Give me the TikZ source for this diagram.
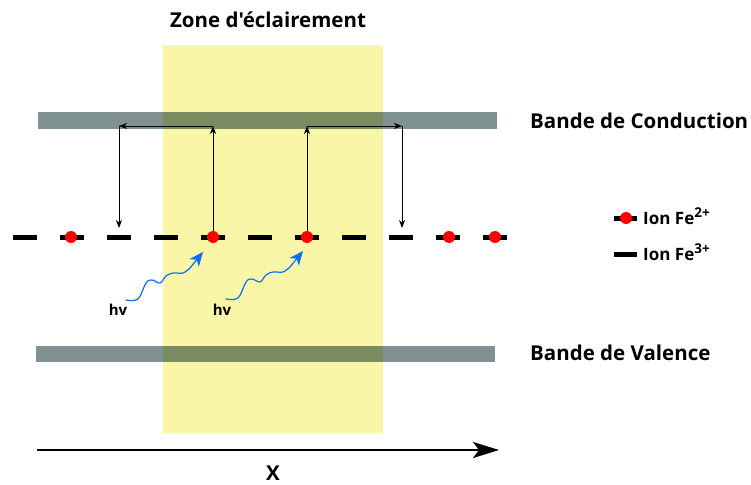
\documentclass[tikz,border=0pt]{standalone}
\usepackage{fontspec}
\setmainfont{Open Sans}[Ligatures=TeXOff]
\usetikzlibrary{arrows.meta}
\definecolor{zoneyel}{RGB}{238,232,0}
\definecolor{bandgray}{RGB}{0,35,33}
\definecolor{wave}{RGB}{10,110,255}
\definecolor{ionred}{RGB}{255,0,0}
\newcommand{\supch}[1]{\raisebox{7pt}{\fontsize{13.5}{13.5}\selectfont #1}}
\tikzset{
  lbl/.style={font=\bfseries\fontsize{20.5}{24}\selectfont, inner sep=0pt},
  hvlbl/.style={font=\bfseries\fontsize{15}{18}\selectfont, inner sep=0pt},
  leglbl/.style={font=\bfseries\fontsize{17}{20}\selectfont, inner sep=0pt},
  band/.style={fill=bandgray, fill opacity=0.5, draw=none},
  ion/.style={circle, fill=ionred, draw=none, minimum size=12pt, inner sep=0pt},
  hop/.style={-{Stealth[length=8pt,width=6pt,inset=2.5pt]}, line width=0.8pt},
  photonline/.style={wave, line width=1.2pt, line cap=round, -{Stealth[length=14pt,width=12pt,inset=4pt]}},
  fe/.style={line width=5pt, dash pattern=on 24pt off 23pt},
  photon/.pic={\draw[photonline] plot[smooth, tension=0.6] coordinates {(0,0) (12,-1) (20,-17) (26,-20) (34,-17) (40,-24) (47,-27) (57,-27) (64,-32)} -- (77,-48);},
}
\begin{document}
\begin{tikzpicture}[x=1pt,y=-1pt]
\useasboundingbox (0,0) rectangle (751,484);
% zone
\fill[zoneyel, fill opacity=0.345] (163,45) rectangle (383,433);
\node[lbl] (zone) at (268,20) {Zone d'éclairement};
% bands
\fill[band] (38,112) rectangle (497,129);
\fill[band] (36,346) rectangle (495,362);
\node[lbl, anchor=west] (bc) at (530,121) {Bande de Conduction};
\node[lbl, anchor=west] (bv) at (530,353) {Bande de Valence};
% Fe3+ line
\draw[fe] (13,237) -- (508,237);
% Fe2+ ions
\node[ion] (d1) at (71,237) {};
\node[ion] (d2) at (213,237) {};
\node[ion] (d3) at (307,237) {};
\node[ion] (d4) at (449,237) {};
\node[ion] (d5) at (495,237) {};
% hopping arrows
\coordinate (c1) at (119,126);
\coordinate (c2) at (213,126);
\coordinate (c3) at (307,126);
\coordinate (c4) at (402,126);
\coordinate (t1) at (119,228);
\coordinate (t4) at (402,228);
\draw[hop] (d2.north) -- (c2);
\draw[hop] (c2) -- (c1);
\draw[hop] (c1) -- (t1);
\draw[hop] (d3.north) -- (c3);
\draw[hop] (c3) -- (c4);
\draw[hop] (c4) -- (t4);
% photons
\coordinate (s1) at (126,300);
\coordinate (s2) at (226,299);
\pic at (s1) {photon};
\pic at (s2) {photon};
\node[hvlbl] (hv1) at (118,310) {hv};
\node[hvlbl] (hv2) at (222,310) {hv};
% legend
\draw[line width=5pt] (614,218) -- (637,218);
\node[ion] (ld) at (626,218) {};
\node[leglbl, anchor=base west] (l1) at (643,224) {Ion Fe\supch{2+}};
\draw[line width=5pt] (614,254) -- (637,254);
\node[leglbl, anchor=base west] (l2) at (643,260) {Ion Fe\supch{3+}};
% axis
\coordinate (a0) at (37,450);
\coordinate (a1) at (499,450);
\draw[line width=2pt, -{Stealth[length=26pt,width=16pt,inset=6pt]}] (a0) -- (a1);
\node[lbl] (xl) at (273,473) {X};
\end{tikzpicture}
\end{document}
